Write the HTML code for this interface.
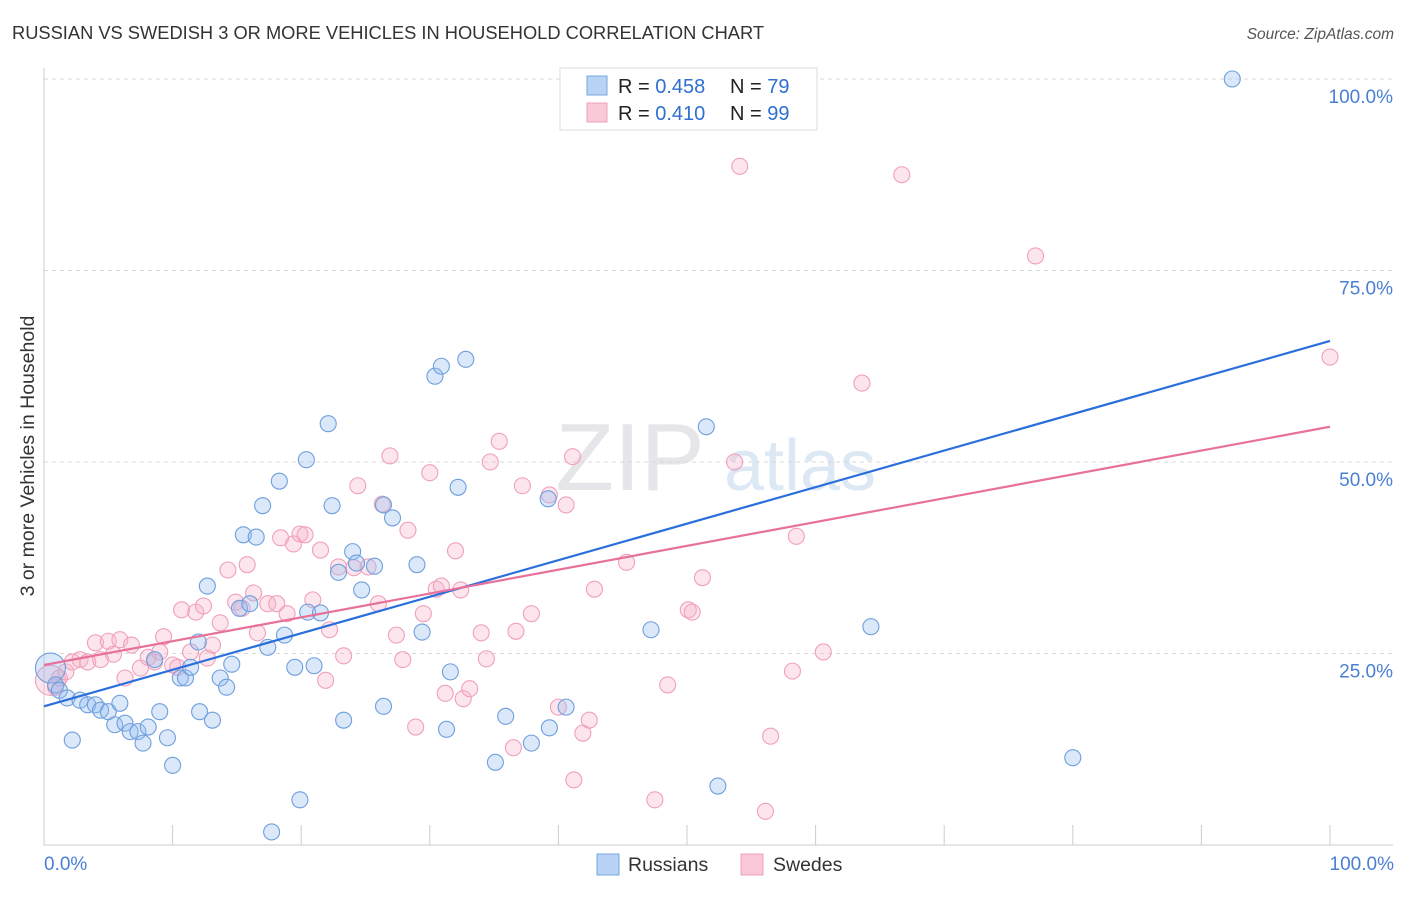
<!DOCTYPE html>
<html><head><meta charset="utf-8"><style>
body{margin:0;background:#fff;font-family:"Liberation Sans",sans-serif}
svg text{font-family:"Liberation Sans",sans-serif}
</style></head><body>
<svg id="chart" width="1406" height="892" viewBox="0 0 1406 892">
<text x="12" y="39" font-size="18.3" fill="#333">RUSSIAN VS SWEDISH 3 OR MORE VEHICLES IN HOUSEHOLD CORRELATION CHART</text>
<text x="1394" y="39" font-size="15.5" fill="#555" font-style="italic" text-anchor="end">Source: ZipAtlas.com</text>
<text x="630" y="490" font-size="96" fill="#e6e6ea" text-anchor="middle" font-family="Liberation Serif,serif">ZIP</text>
<text x="800" y="490" font-size="72" fill="#dde8f5" text-anchor="middle">atlas</text>
<g id="grid"></g>
<g id="axes"></g>
<g id="points"></g>
<g id="lines"></g>
<text x="0" y="0" transform="translate(34,456) rotate(-90)" font-size="19.5" fill="#333" text-anchor="middle">3 or more Vehicles in Household</text>
<text x="44" y="870" font-size="19" fill="#4a7fd4">0.0%</text>
<text x="1394" y="870" font-size="19" fill="#4a7fd4" text-anchor="end">100.0%</text>
<g>
<rect x="560" y="68" width="257" height="62" fill="#fff" stroke="#ddd"/>
<rect x="587" y="76" width="20" height="19" fill="#b8d3f5" stroke="#7aa7e0"/>
<rect x="587" y="103" width="20" height="19" fill="#f9c9d7" stroke="#f0a0bb"/>
<text x="618" y="93" font-size="20" fill="#222">R = <tspan fill="#2f6fd0">0.458</tspan></text>
<text x="730" y="93" font-size="20" fill="#222">N = <tspan fill="#2f6fd0">79</tspan></text>
<text x="618" y="120" font-size="20" fill="#222">R = <tspan fill="#2f6fd0"> 0.410</tspan></text>
<text x="730" y="120" font-size="20" fill="#222">N = <tspan fill="#2f6fd0">99</tspan></text>
</g>
<g>
<rect x="597" y="854" width="22" height="21" fill="#b8d3f5" stroke="#7aa7e0"/>
<text x="628" y="871" font-size="19.5" fill="#333">Russians</text>
<rect x="741" y="854" width="22" height="21" fill="#f9c9d7" stroke="#f0a0bb"/>
<text x="773" y="871" font-size="19.5" fill="#333">Swedes</text>
</g>
</svg>
<script>
const yTicks=[25,50,75,100];
const yTickLabels=["25.0%","50.0%","75.0%","100.0%"];
const xTicks=[0,10,20,30,40,50,60,70,80,90,100];
const blueX=[0.5,0.9,1.2,1.8,2.2,2.8,3.4,4.0,4.4,5.0,5.5,5.9,6.3,6.7,7.3,7.7,8.1,8.6,9.0,9.6,10.0,10.6,11.0,11.4,12.0,12.1,12.7,13.1,13.7,14.2,14.6,15.2,15.5,16.0,16.5,17.0,17.4,18.3,18.7,19.5,19.9,20.4,20.5,21.0,21.5,22.1,22.4,22.9,23.3,24.0,24.3,24.7,25.7,26.4,26.4,27.1,29.0,29.4,30.4,30.9,31.3,31.6,32.2,32.8,35.1,35.9,37.9,39.2,39.3,40.6,47.2,51.5,52.4,64.3,80.0,92.4,17.7];
const blueY=[23.1,20.9,20.2,19.2,13.7,18.9,18.3,18.3,17.6,17.4,15.7,18.5,15.9,14.8,14.8,13.3,15.4,24.2,17.4,14.0,10.4,21.8,21.8,23.2,26.5,17.4,33.8,16.3,21.8,20.6,23.6,30.9,40.5,31.5,40.2,44.3,25.8,47.5,27.4,23.2,5.9,50.3,30.4,23.4,30.3,55.0,44.3,35.6,16.3,38.3,36.8,33.3,36.4,18.1,44.4,42.7,36.6,27.8,61.2,62.5,15.1,22.6,46.7,63.4,10.8,16.8,13.3,45.2,15.3,18.0,28.1,54.6,7.7,28.5,11.4,100.0,1.7];
const pinkX=[0.5,0.9,1.2,1.7,2.2,2.8,3.4,4.0,4.4,5.0,5.4,5.9,6.3,6.8,7.5,8.1,8.6,9.0,9.3,10.0,10.4,10.7,11.4,11.8,12.4,12.7,13.1,13.7,14.3,14.9,15.4,15.8,16.3,16.6,17.4,18.1,18.4,18.9,19.4,19.9,20.3,20.9,21.5,21.9,22.2,22.9,23.3,24.1,24.4,25.2,26.0,26.3,26.9,27.4,27.9,28.3,28.9,29.5,30.0,30.5,30.9,31.2,32.0,32.4,32.6,33.1,34.0,34.4,34.7,35.4,36.5,36.7,37.2,37.9,39.3,40.0,40.6,41.1,41.2,41.9,42.4,42.8,45.3,47.5,48.5,50.1,50.4,51.2,53.7,54.1,56.1,56.5,58.2,58.5,60.6,63.6,66.7,77.1,100];
const pinkY=[21.5,20.6,21.8,22.6,23.9,24.2,23.9,26.4,24.2,26.6,24.9,26.8,21.8,26.1,23.1,24.5,23.9,25.2,27.2,23.5,23.2,30.7,25.2,30.4,31.2,24.4,26.1,29.0,35.9,31.7,30.9,36.6,32.9,27.7,31.5,31.5,40.1,30.2,39.3,40.6,40.5,32.0,38.5,21.5,28.1,36.3,24.7,36.2,46.9,36.3,31.5,44.5,50.8,27.4,24.2,41.1,15.4,30.2,48.6,33.4,33.8,19.8,38.4,33.3,19.1,20.4,27.7,24.3,50.0,52.7,12.7,27.9,46.9,30.2,45.7,18.0,44.4,50.7,8.5,14.6,16.3,33.4,36.9,5.9,20.9,30.7,30.4,34.9,50.0,88.6,4.4,14.2,22.7,40.3,25.2,60.3,87.5,76.9,63.7];
const blueTrend=[18.1,65.8];
const pinkTrend=[23.5,54.6];

const NS="http://www.w3.org/2000/svg";
const X0=44,X1=1330,Y0=845,Y100=79;
const sx=v=>X0+(X1-X0)*v/100;
const sy=v=>Y0-(Y0-Y100)*v/100;
function mk(tag,attrs,parent){const e=document.createElementNS(NS,tag);for(const k in attrs)e.setAttribute(k,attrs[k]);document.getElementById(parent).appendChild(e);return e;}
yTicks.forEach((t,i)=>{
  const l=mk('line',{x1:X0,x2:1393,y1:sy(t),y2:sy(t),stroke:'#d8d8d8','stroke-dasharray':'4,4'},'grid');
  
  
  const tx=mk('text',{x:1393,y:sy(t)+24,'font-size':19,fill:'#4a7fd4','text-anchor':'end'},'grid');
  tx.textContent=yTickLabels[i];
  
  
});
const ax=mk('line',{x1:X0,x2:1393,y1:Y0,y2:Y0,stroke:'#ccc'},'axes');


const ay=mk('line',{x1:X0,x2:X0,y1:68,y2:Y0,stroke:'#ccc'},'axes');


xTicks.forEach(t=>{
  const l=mk('line',{x1:sx(t),x2:sx(t),y1:Y0,y2:Y0-20,stroke:'#ccc'},'axes');
  
  
});
function pts(xs,ys,fill,stroke,name){
  xs.forEach((x,i)=>{
    const r=i===0?15:8;
    const c=mk('circle',{cx:sx(x),cy:sy(ys[i]),r:r,fill:fill,stroke:stroke,'stroke-width':1.1},'points');
    
    
  });
}
pts(pinkX,pinkY,'rgba(246,180,202,0.35)','#f0a0bb','swedes-point');
pts(blueX,blueY,'rgba(150,190,240,0.35)','#6f9fdc','russians-point');
const bl=mk('line',{x1:sx(0),y1:sy(blueTrend[0]),x2:sx(100),y2:sy(blueTrend[1]),stroke:'#2a6fdb','stroke-width':2.2},'lines');


const pl=mk('line',{x1:sx(0),y1:sy(pinkTrend[0]),x2:sx(100),y2:sy(pinkTrend[1]),stroke:'#e8719a','stroke-width':2.2},'lines');


</script>
</body></html>
